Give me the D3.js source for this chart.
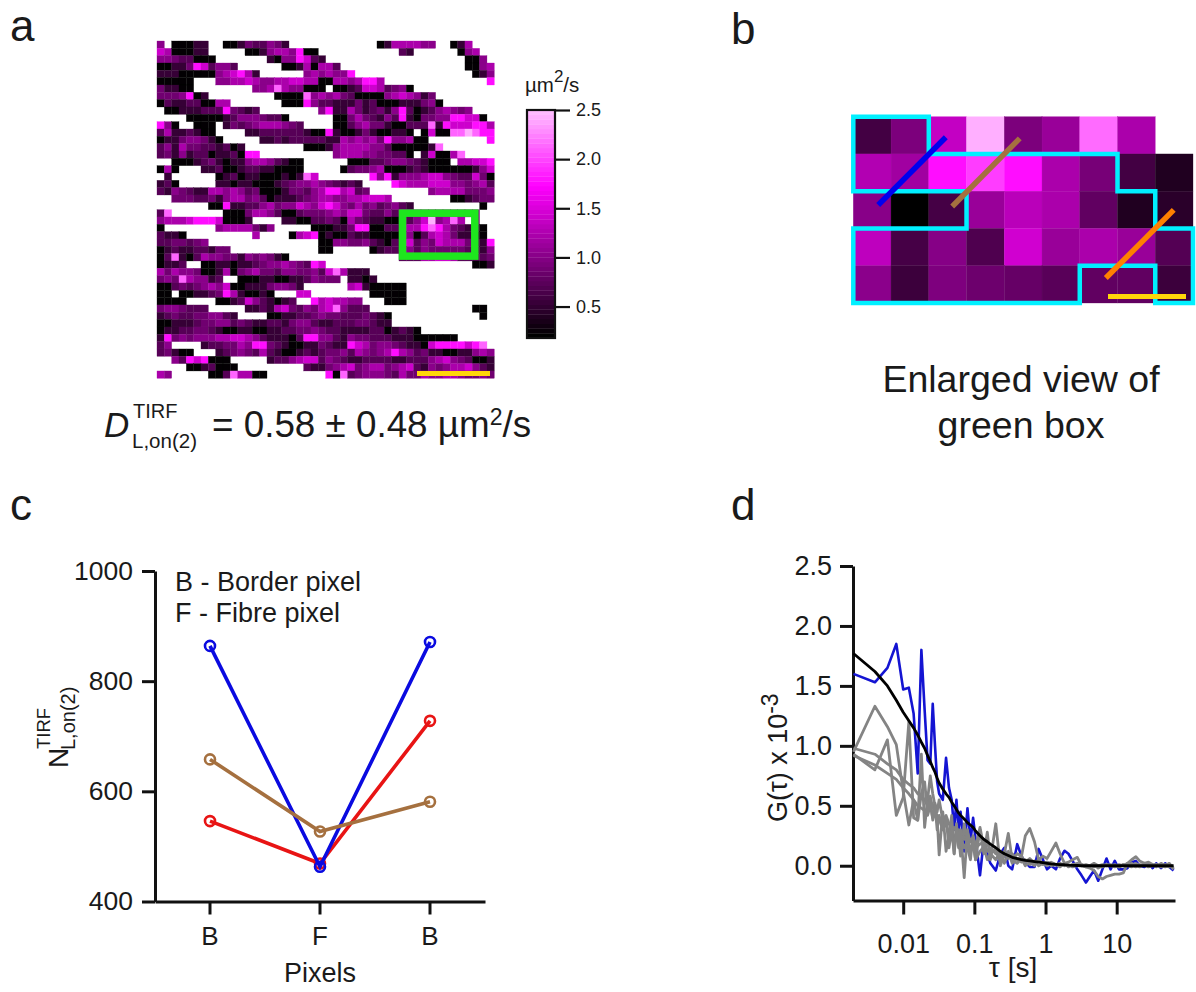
<!DOCTYPE html>
<html>
<head>
<meta charset="utf-8">
<script src="https://cdn.jsdelivr.net/npm/d3@7"></script>
<style>
  body { margin: 0; background: #fff; }
  text { font-family: "Liberation Sans", Arial, sans-serif; fill: #1a1a1a; }
  .soft { filter: blur(0.6px); }
</style>
</head>
<body>
<div id="chart"></div>
<script>
// panel a: one string per row, one char per cell, "." = no value
const heatRows = [
  "4.00011..001322431............01555544..015...",
  "6500011.....0014554700...........21......045..",
  "44322000.......10447621...................004.",
  "00113762442......00150552.................0045",
  "11100000456751......4545447................014",
  "00000...44556544556655005545775..............7",
  "31100........4458544000.00126652340...........",
  "3334701.........0000845453200004565413........",
  "0211220055.......0007422111312000111340.......",
  ".0011122273212........471153123147201245434...",
  "....00000124443220......003532142710334477660.",
  "740..000.13234555432....0024533100222817666775",
  "25112100....11222222100710013100110.0600889877",
  "011344310.....11212222211545453744500........7",
  "241533221201........0001455554420000018.......",
  "23141220112077..........45554433220.160058....",
  "..000123101145542100......00022344321000.55667",
  "050...11200122110000.....023345000121000000146",
  ".1......01201100010186.......74714445664322630",
  "120.....11011000123445432121....76555666443452",
  "21432115545423000133245775623........455553334",
  "..333223145534201112345544556665........001233",
  ".......0071122453446546764353423421.........0.",
  "28.......00035542002333454663224244444444444..",
  "4555677760001....1100223205321100324694585.4..",
  "0.......45555314.....000113770022155787532120.",
  "2110.........5....056701002110000140256531110.",
  "2233234...............004433421021624365553217",
  "0121122133............00.....01221424333332214",
  "028102544331434310...............2225566522223",
  "0112..00110112344543276....................001",
  "53544300150345332443342685111.................",
  "343854412..00011001124333.1101................",
  "00232345460011134431......56100000............",
  "00.0011237510010...66........00000............",
  "0000....00126421012..7565544...000............",
  "3443222.....11215632435684222..............00.",
  "12322334421....00112234332223210............0.",
  "00111233442321122134421122233211..............",
  "011223321001100112233432211112201210..........",
  "17343444556654211102774421433222111000000.....",
  "24....122335477321001132117653443211067777678.",
  "23100...12343252100121233425434575423110011454",
  "..42767000.....1224566243211222211222456432001",
  "....0012000.........21134563455345621434556421",
  "54.....00285500........70823444325335445543343"
];
const heatLevels = [0.2, 0.5, 0.7, 0.85, 1.0, 1.2, 1.4, 1.75, 2.1, 2.4];
const colorStops = [0.18, 1.7, 2.5];
const colorTicks = [0.5, 1.0, 1.5, 2.0, 2.5];

// panel b: enlarged green box, values in um2/s
const boxValues = [
  [0.58, 0.92, 1.34, 2.4, 0.92, 1.09, 2.13, 1.2, null],
  [1.24, 1.14, 1.75, 1.94, 1.75, 1.2, 0.89, 0.58, 0.37],
  [0.99, 0.1, 0.59, 1.09, 1.29, 1.2, 0.76, 0.37, 0.43],
  [1.31, 0.6, 0.98, 0.65, 1.42, 1.09, 1.2, 1.09, 0.68],
  [1.01, 0.54, 0.93, 0.83, 0.79, 0.71, 0.76, 0.76, 0.54]
];
const fibreOutline = [[0,0],[2,0],[2,1],[7,1],[7,2],[8,2],[8,3],[9,3],[9,5],[8,5],[8,4],[6,4],[6,5],[0,5],[0,3],[3,3],[3,2],[0,2]];
const boxCuts = [
  { color: "#0000ee", from: [0.66, 2.37], to: [2.45, 0.55] },
  { color: "#a5703f", from: [2.62, 2.41], to: [4.41, 0.58] },
  { color: "#ff8000", from: [6.69, 4.33], to: [8.49, 2.5] }
];

// panel c
const pixelLabels = ["B", "F", "B"];
const blueN = [864, 463, 871];
const redN = [546, 469, 728];
const brownN = [658, 527, 581];

// panel d
const tau = [
  .002,.004,.006,.008,.01,.012,.014,.016,.018,.02,
  .022,.024,.026,.028,.03,.032,.036,.04,.044,.048,
  .052,.056,.06,.064,.072,.08,.088,.096,.104,.12,
  .136,.152,.168,.2,.232,.264,.3,.34,.4,.46,
  .52,.6,.7,.8,.92,1.05,1.2,1.4,1.6,1.85,
  2.1,2.4,2.8,3.2,3.7,4.2,4.8,5.5,6.3,7.2,
  8.2,9.4,10.8,12.4,14.2,16.2,18.6,21,24.5,28,
  32,36,42,48,55,63
];
const blueG = [
  1.6,1.53,1.65,1.85,1.47,1.485,1.27,.77,1.8,1.3,
  .88,.85,1.35,1.0,.7,.6,.55,.9,.65,.55,
  .3,.55,.3,.45,.12,.48,.2,.4,.22,-.08,
  .22,.1,.02,-.04,.1,.15,.0,-.03,.18,.08,
  .03,-.01,-.01,.14,.05,-.03,.0,-.03,.06,.125,
  .1,.04,-.03,-.08,-.14,-.09,-.04,-.125,-.03,.06,
  -.03,.04,-.03,-.03,-.02,.03,.04,.0,-.01,.02,
  -.02,.02,-.02,.02,-.01,-.04
];
const fitG = [
  1.77,1.62,1.5,1.38,1.28,1.21,1.15,1.09,1.03,.98,
  .92,.87,.82,.78,.73,.69,.64,.6,.57,.53,
  .5,.47,.44,.42,.39,.36,.34,.32,.29,.25,
  .22,.2,.18,.15,.12,.1,.085,.07,.06,.05,
  .045,.04,.035,.03,.025,.02,.015,.012,.01,.008,
  .005,.003,.002,0,0,0,0,0,0,0,
  0,0,0,0,0,0,0,0,0,0,
  0,0,0,0,0,0
];
const grayG1 = [
  .95,1.33,1.16,1.01,.62,.34,.55,.38,.6,.7,
  .45,.55,.38,.5,.3,.42,.3,.4,.15,.3,
  .1,.35,.15,.3,-.1,.3,.1,.2,.05,.3,
  .1,.28,.05,.35,.0,.1,.27,.05,.1,.08,
  .25,.31,.2,.05,.08,.06,.12,.19,.1,.02,
  .03,.05,.07,.0,-.01,-.02,-.04,-.09,-.11,-.09,
  -.08,-.07,-.07,-.06,.02,.05,.075,.04,.02,.03,
  .01,-.01,.02,.0,.02,-.03
];
const grayG2 = [
  .93,.8,1.05,.42,.57,1.2,.4,.38,.93,.32,
  .55,.75,.6,.5,.4,.09,.45,.12,.25,.42,
  .1,.3,.25,.08,.35,.15,.05,.25,.15,.32,
  .15,.2,.1,.05,.12,.02,.1,.05,.02,.06,
  .0,.03,.0,.05,.02,.0,.03,.01,-.01,.02,
  .0,.01,.02,.0,.01,.0,.02,.0,-.01,.01,
  .0,-.01,.01,.0,.02,.0,-.01,.01,.0,.01,
  .0,.01,-.01,.01,.0,-.02
];
const grayG3 = [
  .98,.93,.85,.8,.72,.68,.65,.6,.58,.55,
  .5,.58,.48,.52,.45,.55,.38,.42,.35,.3,
  .32,.28,.3,.25,.22,.28,.2,.24,.15,.18,
  .2,.12,.15,.1,.08,.12,.06,.1,.05,.08,
  .03,.06,.02,.05,.01,.03,.02,.01,.0,.02,
  -.01,.01,0,.01,-.01,0,.01,-.02,0,.01,
  0,.01,-.01,.01,0,-.01,.02,0,.01,-.01,
  0,.01,0,-.01,.01,-.02
];
const grayG4 = [
  .92,.84,.77,.72,.65,.6,.55,.5,.48,.46,
  .42,.5,.4,.45,.36,.4,.3,.36,.26,.3,
  .22,.27,.2,.24,.15,.2,.12,.18,.05,.12,
  .16,.05,.1,.14,.03,.08,.12,.02,.06,.03,
  .05,.01,.04,.0,.02,.03,.0,.01,.02,.0,
  .01,-.01,.0,.01,.0,.0,-.01,.0,.01,.0,
  .01,.0,-.01,.01,.0,.02,.0,-.01,.01,.0,
  .01,.0,.01,.0,-.01,.0
];

const svg = d3.select("#chart").append("svg")
  .attr("width", 1196)
  .attr("height", 992);

function addText(x, y, str, size, opts = {}) {
  const t = svg.append("text")
    .attr("x", x)
    .attr("y", y)
    .attr("font-size", size)
    .attr("text-anchor", opts.anchor || "start")
    .text(str);
  if (opts.italic) t.attr("font-style", "italic");
  if (opts.rotate) t.attr("transform", `rotate(-90,${x},${y})`);
  return t;
}

function styleAxis(g, size) {
  g.selectAll("path").attr("stroke", "#111").attr("stroke-width", 3);
  g.selectAll("line").attr("stroke", "#111").attr("stroke-width", 3);
  g.selectAll("text")
    .attr("font-size", size)
    .attr("font-family", '"Liberation Sans", Arial, sans-serif')
    .attr("fill", "#1a1a1a");
}

// panel letters
addText(10, 41, "a", 44);
addText(731, 44, "b", 44);
addText(10, 520, "c", 44);
addText(731, 520, "d", 44);

const heatColor = d3.scaleLinear()
  .domain(colorStops)
  .range(["#000000", "#ff00ff", "#ffc8ff"]);

// ---- panel a ----
const heatX = d3.scaleBand().domain(d3.range(46)).range([157, 494.3]);
const heatY = d3.scaleBand().domain(d3.range(46)).range([41, 378.3]);

const heatCells = [];
heatRows.forEach((row, r) => {
  row.split("").forEach((ch, c) => {
    if (ch !== ".") heatCells.push({ r, c, v: heatLevels[+ch] });
  });
});

svg.append("g").attr("class", "soft").selectAll("rect")
  .data(heatCells)
  .enter()
  .append("rect")
  .attr("x", d => heatX(d.c))
  .attr("y", d => heatY(d.r))
  .attr("width", heatX.bandwidth())
  .attr("height", heatY.bandwidth())
  .attr("fill", d => heatColor(d.v))
  .attr("stroke", d => heatColor(d.v))
  .attr("stroke-width", 0.3);

// green box, same cells as panel b
svg.append("rect")
  .attr("x", heatX(33) + 3.5)
  .attr("y", heatY(23) + 3.5)
  .attr("width", heatX.bandwidth() * 10 - 1)
  .attr("height", heatY.bandwidth() * 6 - 1)
  .attr("fill", "none")
  .attr("stroke", "#1ee61e")
  .attr("stroke-width", 7.5);

// scale bar
svg.append("rect").attr("x", 417).attr("y", 371).attr("width", 73).attr("height", 5).attr("fill", "#ffd60a");

// color bar
const barY = d3.scaleLinear().domain([0.18, 2.5]).range([338, 110]);
const barStep = (2.5 - 0.18) / 48;
const barLevels = d3.range(48).map(i => 0.18 + i * barStep);
svg.append("g").selectAll("rect")
  .data(barLevels)
  .enter()
  .append("rect")
  .attr("x", 527)
  .attr("width", 28)
  .attr("y", d => barY(d + barStep))
  .attr("height", d => barY(d) - barY(d + barStep) + 0.3)
  .attr("fill", d => heatColor(d));
svg.append("rect")
  .attr("x", 527).attr("y", 110).attr("width", 28).attr("height", 228)
  .attr("fill", "none").attr("stroke", "#111").attr("stroke-width", 2.2);

const barAxis = svg.append("g")
  .attr("transform", "translate(555,0)")
  .call(d3.axisRight(barY).tickValues(colorTicks).tickFormat(d3.format(".1f")).tickSize(15).tickPadding(6).tickSizeOuter(0));
barAxis.select("path").remove();
styleAxis(barAxis, 18);
barAxis.selectAll("line").attr("stroke-width", 2.2);

const barTitle = addText(525, 92, "µm", 20.5);
barTitle.append("tspan").attr("dy", -10).attr("font-size", 17).text("2");
barTitle.append("tspan").attr("dy", 10).text("/s");

addText(104, 437, "D", 35, { italic: true });
addText(133, 418, "TIRF", 20);
addText(132, 448, "L,on(2)", 20.5);
const dText = addText(212, 437, "= 0.58 ± 0.48 µm", 36.8);
dText.append("tspan").attr("dy", -12).attr("font-size", 23).text("2");
dText.append("tspan").attr("dy", 12).text("/s");

// ---- panel b ----
const boxX = d3.scaleLinear().domain([0, 9]).range([853.3, 1193]);
const boxY = d3.scaleLinear().domain([0, 5]).range([116.7, 303]);

const boxCells = [];
boxValues.forEach((row, r) => row.forEach((v, c) => {
  if (v !== null) boxCells.push({ r, c, v });
}));

svg.append("g").attr("class", "soft").selectAll("rect")
  .data(boxCells)
  .enter()
  .append("rect")
  .attr("x", d => boxX(d.c))
  .attr("y", d => boxY(d.r))
  .attr("width", boxX(1) - boxX(0))
  .attr("height", boxY(1) - boxY(0))
  .attr("fill", d => heatColor(d.v))
  .attr("stroke", d => heatColor(d.v))
  .attr("stroke-width", 0.3);

svg.append("path")
  .attr("d", d3.line().x(d => boxX(d[0])).y(d => boxY(d[1])).curve(d3.curveLinearClosed)(fibreOutline))
  .attr("fill", "none")
  .attr("stroke", "#00f0ff")
  .attr("stroke-width", 4.5);

svg.append("g").selectAll("line")
  .data(boxCuts)
  .enter()
  .append("line")
  .attr("x1", d => boxX(d.from[0]))
  .attr("y1", d => boxY(d.from[1]))
  .attr("x2", d => boxX(d.to[0]))
  .attr("y2", d => boxY(d.to[1]))
  .attr("stroke", d => d.color)
  .attr("stroke-width", 5.5);

svg.append("rect").attr("x", 1108).attr("y", 294).attr("width", 78).attr("height", 5).attr("fill", "#ffd60a");

addText(1021, 392, "Enlarged view of", 37.5, { anchor: "middle" });
addText(1021, 438, "green box", 37.5, { anchor: "middle" });

// ---- panel c ----
const xC = d3.scaleBand().domain([0, 1, 2]).range([155, 485]);
const yC = d3.scaleLinear().domain([400, 1000]).range([901.5, 571]);

const axisCx = svg.append("g")
  .attr("transform", "translate(0,901.5)")
  .call(d3.axisBottom(xC).tickFormat(i => pixelLabels[i]).tickSize(13).tickPadding(12).tickSizeOuter(0));
styleAxis(axisCx, 26);

const axisCy = svg.append("g")
  .attr("transform", "translate(155,0)")
  .call(d3.axisLeft(yC).tickValues([400, 600, 800, 1000]).tickFormat(d3.format("d")).tickSize(13).tickPadding(9).tickSizeOuter(0));
styleAxis(axisCy, 26.5);

// red goes first so the blue ring stays on top at the F pixel
const nSeries = [
  { color: "#e81414", values: redN },
  { color: "#0a0ae0", values: blueN },
  { color: "#a5703f", values: brownN }
];
const lineC = d3.line().x((d, i) => xC(i) + xC.bandwidth() / 2).y(d => yC(d));

nSeries.forEach(s => {
  svg.append("path")
    .attr("d", lineC(s.values))
    .attr("fill", "none")
    .attr("stroke", s.color)
    .attr("stroke-width", 3.6);
  svg.append("g").selectAll("circle")
    .data(s.values)
    .enter()
    .append("circle")
    .attr("cx", (d, i) => xC(i) + xC.bandwidth() / 2)
    .attr("cy", d => yC(d))
    .attr("r", 5)
    .attr("fill", "none")
    .attr("stroke", s.color)
    .attr("stroke-width", 2.6);
});

addText(175, 591, "B - Border pixel", 27);
addText(175, 622, "F - Fibre pixel", 27);

addText(320, 982, "Pixels", 27, { anchor: "middle" });

addText(68, 768, "N", 28, { rotate: true });
addText(50, 749, "TIRF", 18.5, { rotate: true });
addText(75, 750, "L,on(2)", 20, { rotate: true });

// ---- panel d ----
const xD = d3.scaleLog().domain([0.00197, 66]).range([853, 1175]);
const yD = d3.scaleLinear().domain([-0.29, 2.5]).range([900.5, 566]);

const axisDx = svg.append("g")
  .attr("transform", "translate(0,900.5)")
  .call(d3.axisBottom(xD).tickValues([0.01, 0.1, 1, 10]).tickFormat(d => String(d)).tickSize(14).tickPadding(19).tickSizeOuter(0));
styleAxis(axisDx, 27);

const axisDy = svg.append("g")
  .attr("transform", "translate(853,0)")
  .call(d3.axisLeft(yD).tickValues([0, 0.5, 1, 1.5, 2, 2.5]).tickFormat(d3.format(".1f")).tickSize(13).tickPadding(8).tickSizeOuter(0));
styleAxis(axisDy, 27);

const lineD = d3.line().x((d, i) => xD(tau[i])).y(d => yD(d));
const gSeries = [
  { values: blueG, color: "#1414d2", width: 2.6 },
  { values: grayG4, color: "#848484", width: 2.8 },
  { values: grayG3, color: "#848484", width: 2.8 },
  { values: grayG2, color: "#848484", width: 2.8 },
  { values: grayG1, color: "#848484", width: 2.8 },
  { values: fitG, color: "#000000", width: 2.8 }
];
svg.append("g").selectAll("path")
  .data(gSeries)
  .enter()
  .append("path")
  .attr("d", d => lineD(d.values))
  .attr("fill", "none")
  .attr("stroke", d => d.color)
  .attr("stroke-width", d => d.width)
  .attr("stroke-linejoin", "round");

addText(1013, 977, "τ [s]", 28, { anchor: "middle" });

const gLabel = addText(787, 822, "G(τ) x 10", 27, { rotate: true });
gLabel.append("tspan").attr("dy", -9).attr("font-size", 23).text("-3");
</script>
</body>
</html>
